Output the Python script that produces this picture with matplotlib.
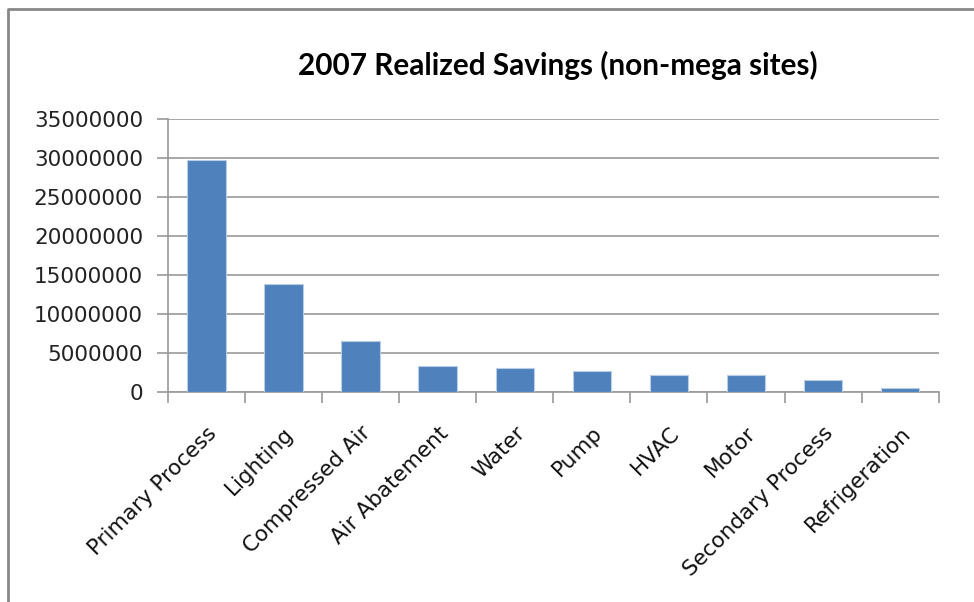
import matplotlib.pyplot as plt
from matplotlib.lines import Line2D
import numpy as np

# Realized savings by category (non-mega sites), 2007
categories = ['Primary Process', 'Lighting', 'Compressed Air', 'Air Abatement',
              'Water', 'Pump', 'HVAC', 'Motor', 'Secondary Process', 'Refrigeration']
savings = [29700000, 13830000, 6600000, 3320000, 3150000,
           2690000, 2210000, 2200000, 1540000, 550000]
y_ticks = [0, 5000000, 10000000, 15000000, 20000000, 25000000, 30000000, 35000000]

grid_color = '#9a9a9a'
bar_color = '#4f81bd'

fig = plt.figure(figsize=(9.74, 6.02), dpi=100)
ax = fig.add_axes([0.1725, 0.3483, 0.7912, 0.454])

x = np.arange(len(categories))
ax.bar(x, savings, width=0.5, color=bar_color, edgecolor='#b9cde5', linewidth=0.8, zorder=3)

ax.set_xlim(-0.5, len(categories) - 0.5)
ax.set_ylim(0, 35000000)
ax.set_yticks(y_ticks)
ax.set_yticklabels([str(v) for v in y_ticks], fontsize=15.5, color='#222222')

# category labels in the middle, tick marks on the boundaries
ax.set_xticks(x)
ax.set_xticklabels(categories, rotation=45, ha='right', rotation_mode='anchor',
                   fontsize=15.5, color='#111111')
ax.tick_params(axis='x', length=0, pad=22)
ax.set_xticks(np.arange(len(categories) + 1) - 0.5, minor=True)
ax.tick_params(axis='x', which='minor', length=8, width=1.2, color=grid_color)
ax.tick_params(axis='y', length=8, width=1.2, color=grid_color, pad=10)

ax.grid(axis='y', color=grid_color, linewidth=1.2, zorder=0)
for side in ['top', 'right']:
    ax.spines[side].set_visible(False)
for side in ['left', 'bottom']:
    ax.spines[side].set_color(grid_color)
    ax.spines[side].set_linewidth(1.2)

fig.text(0.5724, 0.892, '2007 Realized Savings (non-mega sites)', ha='center', va='center',
         fontsize=21.4, fontweight='bold', family='Lato')

# chart frame (runs off the right and bottom edges)
fy = 1 - 8.5 / 602
fx = 8 / 974
fig.add_artist(Line2D([fx, fx, 1.0], [0.0, fy, fy], transform=fig.transFigure,
                      color='#888888', linewidth=2))

fig.savefig('out.png', dpi=100)
